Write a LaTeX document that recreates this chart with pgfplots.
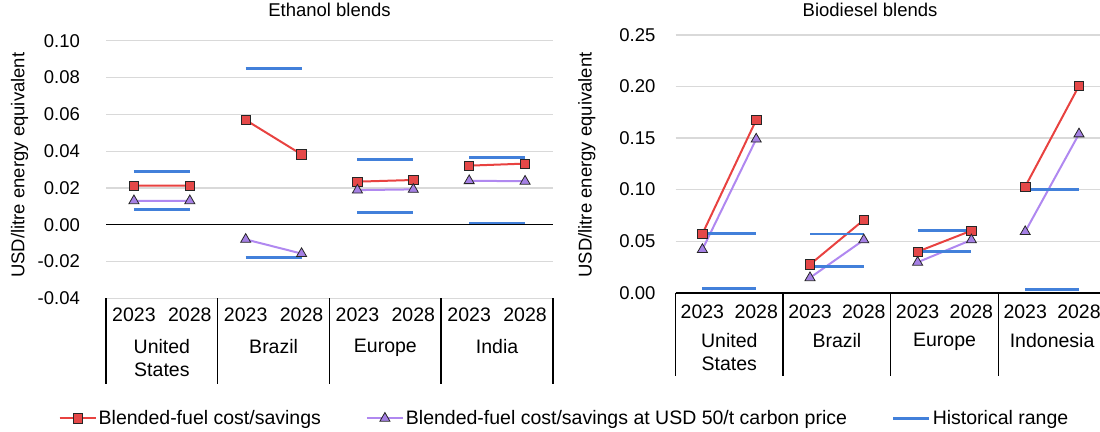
\documentclass[border=0pt]{standalone}
\usepackage{fontspec}
\setmainfont{Liberation Sans}
\usepackage{pgfplots}
\pgfplotsset{compat=1.18}
\definecolor{cred}{RGB}{232,66,64}
\definecolor{credfill}{RGB}{229,72,72}
\definecolor{cpurp}{RGB}{176,136,240}
\definecolor{cpurpfill}{RGB}{165,128,228}
\definecolor{cblue}{RGB}{66,128,218}
\definecolor{cgrid}{RGB}{217,217,217}
\newcommand\fsz{\fontsize{18.5bp}{22bp}\selectfont}
\newcommand\fsc{\fontsize{19.5bp}{23bp}\selectfont}
\tikzset{
  sep/.style={black, line width=1.5bp},
  grp/.style={anchor=north, align=center, inner sep=0pt, font=\fsc},
}
\pgfplotsset{
  base/.style={
    scale only axis, clip=false,
    xmin=-0.5, xmax=7.5,
    xtick={0,...,7},
    xticklabels={2023,2028,2023,2028,2023,2028,2023,2028},
    major tick length=0pt,
    axis line style={draw=none},
    ymajorgrids, grid style={cgrid, line width=1.2bp},
    yticklabel style={font=\fsz, /pgf/number format/fixed, /pgf/number format/fixed zerofill, /pgf/number format/precision=2, /pgf/number format/assume math mode=true},
    xticklabel style={font=\fsc},
    unbounded coords=jump,
  },
  redser/.style={color=cred, line width=2bp, mark=square*, mark size=4.7bp, mark options={fill=credfill, draw=black!85, line width=0.8bp}},
  purpser/.style={color=cpurp, line width=2bp, mark=triangle*, mark size=5.8bp, mark options={fill=cpurpfill, draw=black!85, line width=0.8bp}},
  histser/.style={color=cblue, line width=2.7bp, no markers, line cap=butt},
}
\begin{document}
\fsz
\begin{tikzpicture}
\useasboundingbox (0,0) rectangle (1100bp,-432bp);
% ---------- Ethanol ----------
\begin{axis}[base,
  at={(106bp,-298.3bp)}, anchor=south west,
  width=447bp, height=257.6bp,
  ymin=-0.04, ymax=0.10,
  ytick={-0.04,-0.02,0,0.02,0.04,0.06,0.08,0.10},
  yticklabel style={xshift=-19.8bp},
  xticklabel style={yshift=-3.2bp},
  title={Ethanol blends}, title style={at={(0.5,1.096)}, anchor=center, font=\fsz},
  ylabel={USD/litre energy equivalent},
  ylabel style={at={(-0.1935,0.517)}, anchor=center, rotate=0, font=\fsz},
  legend columns=3,
  legend style={at={(1.0257,-0.466)}, anchor=center, draw=none, font=\fsc,
    /tikz/every even column/.append style={column sep=43bp}, nodes={inner sep=2bp}},
  legend image code/.code={\draw[mark repeat=2,mark phase=2,#1] plot coordinates {(0bp,0bp) (18bp,0bp) (36bp,0bp)};},
]
\draw[black, line width=1.5bp] (axis cs:-0.5,0) -- (axis cs:7.5,0);
\addplot[redser] table {
x y
0 0.0212
1 0.0212
1.5 nan
2 0.0569
3 0.0382
3.5 nan
4 0.0234
5 0.0243
5.5 nan
6 0.0321
7 0.0332
};
\addlegendentry{Blended-fuel cost/savings}
\addplot[purpser] table {
x y
0 0.0130
1 0.0130
1.5 nan
2 -0.0080
3 -0.0157
3.5 nan
4 0.0188
5 0.0192
5.5 nan
6 0.0239
7 0.0236
};
\addlegendentry{Blended-fuel cost/savings at USD 50/t carbon price}
\addplot[histser] table {
x y
0 0.0290
1 0.0290
1.5 nan
2 0.0848
3 0.0848
3.5 nan
4 0.0355
5 0.0355
5.5 nan
6 0.0364
7 0.0364
};
\addlegendentry{Historical range}
\addplot[histser, forget plot] table {
x y
0 0.0083
1 0.0083
1.5 nan
2 -0.0178
3 -0.0178
3.5 nan
4 0.0065
5 0.0065
5.5 nan
6 0.0009
7 0.0009
};
\draw[sep] (axis cs:-0.5,-0.04) -- ([yshift=-86bp]axis cs:-0.5,-0.04);
\draw[sep] (axis cs:1.5,-0.04) -- ([yshift=-86bp]axis cs:1.5,-0.04);
\draw[sep] (axis cs:3.5,-0.04) -- ([yshift=-86bp]axis cs:3.5,-0.04);
\draw[sep] (axis cs:5.5,-0.04) -- ([yshift=-86bp]axis cs:5.5,-0.04);
\draw[sep] (axis cs:7.5,-0.04) -- ([yshift=-86bp]axis cs:7.5,-0.04);
\node[grp, yshift=-40.5bp] at (axis cs:0.5,-0.04) {United\\States};
\node[grp, yshift=-40.5bp] at (axis cs:2.5,-0.04) {Brazil};
\node[grp, yshift=-40.5bp] at (axis cs:4.5,-0.04) {Europe};
\node[grp, yshift=-40.5bp] at (axis cs:6.5,-0.04) {India};
\end{axis}
% ---------- Biodiesel ----------
\begin{axis}[base,
  at={(675.5bp,-292.7bp)}, anchor=south west,
  width=430.4bp, height=257.7bp,
  ymin=0, ymax=0.25,
  ytick={0,0.05,0.10,0.15,0.20,0.25},
  yticklabel style={xshift=-13.8bp},
  xticklabel style={yshift=-6.1bp},
  title={Biodiesel blends}, title style={at={(0.452,1.074)}, anchor=center, font=\fsz},
  ylabel={USD/litre energy equivalent},
  ylabel style={at={(-0.2063,0.4955)}, anchor=center, rotate=0, font=\fsz},
]
\draw[black, line width=1.8bp] (axis cs:-0.5,0) -- (axis cs:7.5,0);
\addplot[redser] table {
x y
0 0.0571
1 0.1676
1.5 nan
2 0.0274
3 0.0706
3.5 nan
4 0.0398
5 0.0602
5.5 nan
6 0.1029
7 0.2007
};
\addplot[purpser] table {
x y
0 0.0419
1 0.1490
1.5 nan
2 0.0145
3 0.0512
3.5 nan
4 0.0295
5 0.0512
5.5 nan
6 0.0592
7 0.1540
};
\addplot[histser] table {
x y
0 0.0573
1 0.0573
1.5 nan
2 0.0570
3 0.0570
3.5 nan
4 0.0606
5 0.0606
5.5 nan
6 0.1004
7 0.1004
};
\addplot[histser] table {
x y
0 0.0039
1 0.0039
1.5 nan
2 0.0252
3 0.0252
3.5 nan
4 0.0398
5 0.0398
5.5 nan
6 0.0033
7 0.0033
};
\draw[sep] (axis cs:-0.5,0) -- ([yshift=-83.3bp]axis cs:-0.5,0);
\draw[sep] (axis cs:1.5,0) -- ([yshift=-83.3bp]axis cs:1.5,0);
\draw[sep] (axis cs:3.5,0) -- ([yshift=-83.3bp]axis cs:3.5,0);
\draw[sep] (axis cs:5.5,0) -- ([yshift=-83.3bp]axis cs:5.5,0);
\draw[sep] (axis cs:7.5,0) -- ([yshift=-83.3bp]axis cs:7.5,0);
\node[grp, yshift=-40.5bp] at (axis cs:0.5,0) {United\\States};
\node[grp, yshift=-40.5bp] at (axis cs:2.5,0) {Brazil};
\node[grp, yshift=-40.5bp] at (axis cs:4.5,0) {Europe};
\node[grp, yshift=-40.5bp] at (axis cs:6.5,0) {Indonesia};
\end{axis}
\end{tikzpicture}
\end{document}
